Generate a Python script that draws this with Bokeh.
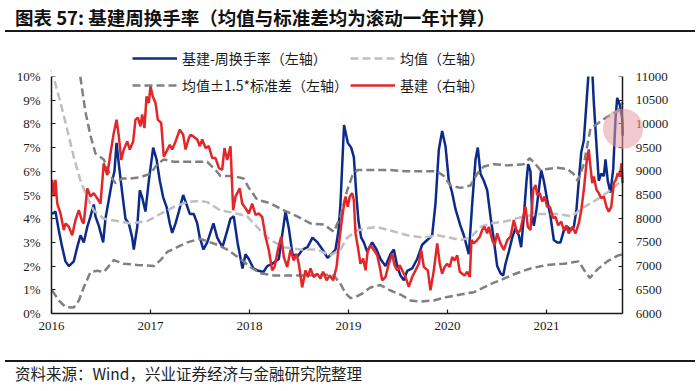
import numpy as np
from bokeh.plotting import figure
from bokeh.models import (Range1d, LinearAxis, FixedTicker, Legend, LegendItem,
                          Div, PolyAnnotation, BoxAnnotation)
from bokeh.layouts import column
from bokeh.embed import file_html
from bokeh.resources import INLINE

# ---------------- data ----------------
year_ticks = [2016, 2017, 2018, 2019, 2020, 2021]
left_ticks = [0, 1, 2, 3, 4, 5, 6, 7, 8, 9, 10]
right_ticks = [6000, 6500, 7000, 7500, 8000, 8500, 9000, 9500, 10000, 10500, 11000]

turnover_yr = [2016.007, 2016.040, 2016.074, 2016.108, 2016.141, 2016.175, 2016.225, 2016.260, 2016.293, 2016.326,
               2016.361, 2016.394, 2016.427, 2016.444, 2016.478, 2016.522, 2016.545, 2016.579, 2016.613, 2016.636,
               2016.657, 2016.680, 2016.714, 2016.747, 2016.781, 2016.815, 2016.831, 2016.866, 2016.892, 2016.916,
               2016.949, 2016.983, 2017.027, 2017.061, 2017.094, 2017.128, 2017.162, 2017.195, 2017.219, 2017.253,
               2017.286, 2017.330, 2017.364, 2017.397, 2017.437, 2017.472, 2017.498, 2017.535, 2017.573, 2017.636,
               2017.674, 2017.727, 2017.775, 2017.808, 2017.841, 2017.879, 2017.929, 2017.960, 2017.993, 2018.040,
               2018.091, 2018.141, 2018.179, 2018.232, 2018.263, 2018.296, 2018.364, 2018.397, 2018.434, 2018.485,
               2018.535, 2018.586, 2018.636, 2018.687, 2018.737, 2018.788, 2018.828, 2018.869, 2018.899, 2018.919,
               2018.955, 2018.993, 2019.027, 2019.054, 2019.081, 2019.101, 2019.128, 2019.155, 2019.189, 2019.239,
               2019.283, 2019.323, 2019.374, 2019.424, 2019.458, 2019.492, 2019.525, 2019.559, 2019.593, 2019.643,
               2019.694, 2019.744, 2019.795, 2019.845, 2019.879, 2019.912, 2019.946, 2019.980, 2020.013, 2020.047,
               2020.081, 2020.131, 2020.165, 2020.215, 2020.249, 2020.283, 2020.306, 2020.333, 2020.367, 2020.401,
               2020.434, 2020.468, 2020.502, 2020.535, 2020.563, 2020.586, 2020.619, 2020.654, 2020.687, 2020.720,
               2020.744, 2020.771, 2020.798, 2020.815, 2020.838, 2020.856, 2020.872, 2020.899, 2020.922, 2020.946,
               2020.973, 2021.007, 2021.040, 2021.074, 2021.108, 2021.141, 2021.175, 2021.215, 2021.242, 2021.276,
               2021.303, 2021.326, 2021.351, 2021.377, 2021.404, 2021.427, 2021.462, 2021.478, 2021.505, 2021.528,
               2021.553, 2021.579, 2021.596, 2021.619, 2021.646, 2021.674, 2021.697, 2021.714, 2021.741, 2021.765,
               2021.770]
turnover_pct = [4.2, 4.3, 3.5, 2.8, 2.2, 2.0, 2.2, 2.8, 3.3, 3.0,
                3.65, 4.1, 4.6, 4.1, 3.7, 3.0, 4.0, 4.8, 5.6, 6.0,
                7.2, 6.3, 5.1, 4.0, 3.8, 3.2, 2.7, 3.65, 5.2, 4.9,
                4.3, 5.6, 7.0, 6.5, 5.6, 4.9, 4.5, 3.8, 3.4, 3.8,
                4.3, 5.0, 4.6, 4.2, 4.2, 3.8, 3.2, 2.7, 3.0, 3.8,
                3.2, 2.8, 3.5, 4.0, 4.1, 3.0, 1.9, 2.5, 2.3, 1.9,
                1.8, 1.75, 2.0, 2.1, 2.2, 2.3, 4.3, 3.6, 2.5, 2.4,
                2.7, 2.8, 3.2, 3.0, 2.7, 2.35, 2.5, 2.7, 3.5, 4.65,
                7.95, 7.2, 7.0, 6.6, 4.9, 3.9, 3.2, 3.0, 2.6, 3.0,
                2.7, 2.3, 2.0, 2.5, 2.7, 2.0, 1.6, 1.4, 1.8, 1.9,
                2.3, 2.9, 3.1, 3.3, 4.65, 6.9, 7.7, 7.05, 5.6, 5.1,
                4.4, 3.7, 3.3, 2.5, 4.6, 6.5, 7.0, 5.9, 5.6, 5.2,
                4.1, 3.1, 2.0, 1.7, 1.6, 2.1, 2.6, 3.2, 3.6, 3.3,
                2.8, 4.1, 5.6, 6.3, 6.0, 4.1, 3.7, 4.4, 5.2, 6.05,
                5.6, 4.8, 4.1, 3.1, 3.0, 3.0, 3.5, 3.65, 3.5, 3.65,
                4.4, 5.6, 6.8, 7.3, 8.9, 10.3, 10.3, 8.9, 7.1, 5.6,
                5.9, 5.8, 6.5, 5.6, 5.1, 6.1, 8.2, 9.1, 8.8, 8.2,
                7.5]

infra_yr = [2016.007, 2016.023, 2016.040, 2016.058, 2016.091, 2016.124, 2016.141, 2016.175, 2016.209, 2016.242,
            2016.276, 2016.310, 2016.326, 2016.361, 2016.394, 2016.427, 2016.462, 2016.495, 2016.528, 2016.563,
            2016.596, 2016.629, 2016.657, 2016.680, 2016.704, 2016.730, 2016.765, 2016.791, 2016.825, 2016.848,
            2016.872, 2016.899, 2016.916, 2016.939, 2016.960, 2016.983, 2017.000, 2017.023, 2017.051, 2017.074,
            2017.108, 2017.134, 2017.162, 2017.195, 2017.219, 2017.253, 2017.296, 2017.330, 2017.354, 2017.387,
            2017.404, 2017.431, 2017.472, 2017.498, 2017.522, 2017.556, 2017.589, 2017.623, 2017.657, 2017.690,
            2017.724, 2017.747, 2017.775, 2017.808, 2017.835, 2017.859, 2017.902, 2017.926, 2017.960, 2017.993,
            2018.027, 2018.061, 2018.094, 2018.128, 2018.162, 2018.195, 2018.229, 2018.253, 2018.286, 2018.320,
            2018.347, 2018.381, 2018.414, 2018.447, 2018.475, 2018.498, 2018.532, 2018.566, 2018.589, 2018.616,
            2018.649, 2018.684, 2018.717, 2018.744, 2018.778, 2018.811, 2018.845, 2018.879, 2018.912, 2018.946,
            2018.970, 2018.993, 2019.013, 2019.037, 2019.054, 2019.071, 2019.094, 2019.121, 2019.148, 2019.172,
            2019.195, 2019.222, 2019.256, 2019.290, 2019.316, 2019.340, 2019.374, 2019.407, 2019.441, 2019.465,
            2019.492, 2019.518, 2019.542, 2019.576, 2019.609, 2019.643, 2019.677, 2019.710, 2019.734, 2019.761,
            2019.801, 2019.828, 2019.862, 2019.896, 2019.922, 2019.946, 2019.970, 2019.997, 2020.023, 2020.047,
            2020.071, 2020.098, 2020.124, 2020.148, 2020.172, 2020.199, 2020.225, 2020.242, 2020.266, 2020.300,
            2020.326, 2020.350, 2020.374, 2020.401, 2020.417, 2020.452, 2020.475, 2020.502, 2020.535, 2020.569,
            2020.603, 2020.636, 2020.670, 2020.704, 2020.737, 2020.765, 2020.788, 2020.811, 2020.838, 2020.866,
            2020.889, 2020.906, 2020.932, 2020.957, 2020.980, 2021.007, 2021.034, 2021.068, 2021.091, 2021.118,
            2021.149, 2021.175, 2021.202, 2021.225, 2021.260, 2021.293, 2021.326, 2021.351, 2021.377, 2021.404,
            2021.427, 2021.444, 2021.462, 2021.478, 2021.505, 2021.528, 2021.553, 2021.579, 2021.606, 2021.629,
            2021.654, 2021.680, 2021.700, 2021.720, 2021.741, 2021.758, 2021.768]
infra_idx = [8820, 8470, 8820, 8320, 8110, 7760, 7900, 7830, 7650, 7970,
             8180, 7940, 7900, 8640, 8470, 8540, 8430, 8320, 9170, 8920,
             9380, 9810, 10090, 9740, 9240, 9460, 9630, 9460, 9630, 10090,
             10130, 9950, 10200, 9910, 10580, 10440, 10800, 10580, 10440, 10090,
             10020, 9310, 9420, 9560, 9460, 9630, 9880, 9770, 9460, 9700,
             9770, 9740, 9670, 9530, 9670, 9490, 9530, 9280, 9280, 9070,
             9030, 9490, 9240, 9530, 8180, 8470, 8640, 8320, 8220, 8110,
             8320, 8080, 8110, 8040, 7620, 7340, 6910, 6980, 7340, 7620,
             7190, 6980, 7340, 7120, 7260, 7050, 6550, 6910, 6770, 6950,
             6770, 6840, 6740, 6880, 6700, 6800, 6700, 6980, 7620, 8180,
             8470, 8250, 8470, 8540, 8390, 7690, 7410, 7050, 7160, 6910,
             7340, 7440, 7340, 7230, 6980, 6700, 6770, 7050, 7260, 7020,
             6910, 7020, 6910, 6770, 6560, 6770, 6910, 7050, 7340, 6980,
             6910, 6490, 6910, 7480, 7050, 6840, 6980, 7050, 6980, 7190,
             7120, 7230, 6880, 6840, 6800, 6880, 6770, 7550, 7480, 7550,
             7620, 7760, 7830, 7690, 7830, 7550, 7440, 7690, 7480, 7340,
             7550, 7620, 7970, 7690, 7760, 8040, 8250, 7830, 7760, 8610,
             8710, 8500, 8540, 8360, 8470, 8250, 8250, 8010, 8040, 7860,
             7940, 7760, 7860, 7690, 7830, 7690, 7900, 8180, 8610, 9170,
             9460, 9100, 8750, 8890, 8610, 8540, 8430, 8470, 8250, 8150,
             8250, 8750, 8820, 8960, 8890, 9170, 8750]

mean_yr = [2016.000, 2016.091, 2016.159, 2016.225, 2016.293, 2016.361, 2016.427, 2016.528, 2016.664, 2016.798,
           2016.967, 2017.101, 2017.235, 2017.371, 2017.498, 2017.573, 2017.707, 2017.841, 2017.977, 2018.111,
           2018.212, 2018.347, 2018.515, 2018.684, 2018.818, 2018.919, 2018.987, 2019.088, 2019.189, 2019.290,
           2019.424, 2019.593, 2019.761, 2019.896, 2020.030, 2020.131, 2020.232, 2020.333, 2020.434, 2020.603,
           2020.771, 2020.939, 2021.108, 2021.260, 2021.343, 2021.444, 2021.545, 2021.646, 2021.730, 2021.770]
mean_pct = [10.3, 8.9, 7.75, 6.6, 5.6, 4.9, 4.35, 4.0, 3.9, 3.8,
            3.9, 4.2, 4.5, 4.7, 4.75, 4.7, 4.35, 4.25, 4.1, 3.5,
            3.1, 2.8, 2.7, 2.7, 2.45, 2.7, 3.2, 3.5, 3.6, 3.65,
            3.5, 3.3, 3.2, 3.3, 3.2, 3.1, 3.2, 3.65, 3.8, 3.9,
            4.1, 4.2, 4.2, 4.1, 4.4, 4.65, 4.9, 5.2, 5.5, 5.6]

upper_yr = [2016.273, 2016.343, 2016.394, 2016.444, 2016.528, 2016.596, 2016.646, 2016.714, 2016.798, 2016.899,
            2017.000, 2017.068, 2017.134, 2017.235, 2017.371, 2017.573, 2017.657, 2017.707, 2017.838, 2017.939,
            2017.993, 2018.078, 2018.212, 2018.347, 2018.482, 2018.616, 2018.751, 2018.852, 2018.919, 2018.987,
            2019.037, 2019.088, 2019.256, 2019.424, 2019.593, 2019.761, 2019.896, 2019.963, 2020.030, 2020.131,
            2020.232, 2020.300, 2020.367, 2020.468, 2020.603, 2020.771, 2020.832, 2020.889, 2020.939, 2021.007,
            2021.108, 2021.209, 2021.270, 2021.316, 2021.377, 2021.444, 2021.512, 2021.613, 2021.724, 2021.770]
upper_pct = [10.5, 8.5, 7.5, 6.75, 6.5, 5.8, 5.5, 5.7, 5.7, 5.75,
             5.9, 6.3, 6.5, 6.4, 6.4, 6.4, 6.05, 5.8, 5.8, 5.7,
             5.3, 4.8, 4.65, 4.35, 4.1, 3.8, 3.75, 3.45, 4.1, 5.2,
             5.8, 6.05, 6.05, 6.05, 6.0, 6.0, 6.0, 5.8, 5.4, 5.3,
             5.4, 5.9, 6.2, 6.3, 6.25, 6.3, 6.55, 6.3, 6.05, 6.1,
             6.15, 6.1, 5.9, 5.6, 6.3, 7.8, 8.0, 8.3, 8.55, 8.9]

lower_yr = [2016.007, 2016.074, 2016.141, 2016.225, 2016.276, 2016.326, 2016.394, 2016.462, 2016.528, 2016.579,
            2016.629, 2016.730, 2016.866, 2017.033, 2017.101, 2017.169, 2017.270, 2017.371, 2017.498, 2017.538,
            2017.674, 2017.775, 2017.909, 2018.010, 2018.111, 2018.245, 2018.414, 2018.583, 2018.751, 2018.852,
            2018.919, 2018.970, 2019.020, 2019.071, 2019.141, 2019.222, 2019.323, 2019.424, 2019.525, 2019.626,
            2019.727, 2019.859, 2019.997, 2020.131, 2020.266, 2020.367, 2020.468, 2020.535, 2020.636, 2020.768,
            2020.838, 2021.007, 2021.175, 2021.326, 2021.377, 2021.438, 2021.512, 2021.613, 2021.724, 2021.770]
lower_pct = [0.97, 0.55, 0.27, 0.25, 0.55, 1.1, 1.75, 1.8, 1.75, 2.0,
             2.25, 2.1, 2.05, 2.0, 2.25, 2.6, 2.8, 3.0, 3.15, 3.1,
             2.9, 2.7, 2.3, 1.95, 1.7, 1.6, 1.6, 1.6, 1.65, 1.6,
             1.25, 0.85, 0.65, 0.7, 0.85, 1.1, 1.2, 0.97, 0.8, 0.55,
             0.5, 0.55, 0.7, 0.8, 0.9, 1.1, 1.3, 1.4, 1.6, 1.8,
             1.9, 2.05, 2.1, 2.2, 1.85, 1.5, 1.85, 2.2, 2.45, 2.5]

title_text = "图表 57: 基建周换手率（均值与标准差均为滚动一年计算）"
source_text = "资料来源：Wind，兴业证券经济与金融研究院整理"
labels = ["基建-周换手率（左轴）", "均值（左轴）", "均值±1.5*标准差（左轴）", "基建（右轴）"]

# ---------------- styles / layout ----------------
BLUE = "#0B2A8A"
RED = "#E3262A"
LIGHT = "#BFBFBF"
DARK = "#808080"
INK = "#1a1a1a"
TICK_FONT = "Liberation Serif"
CJK = "Noto Sans CJK SC"

W = 700
FIG_TOP = 33                     # page y where the figure starts (below title)
FRAME_L, FRAME_R = 6, 694        # frame spans past the axes so tick labels are not cut
FRAME_T, FRAME_B = 44, 345       # frame spans above/below the axes (legend & labels room)
AXIS_L = 51                      # page x of 2016 / left axis
AXIS_T, AXIS_B = 76, 313         # where 10% / 0% sit on the page
PX_PER_YEAR = 99.0
X0, X1 = 2016, 2021.77           # plotted span (axis ends)
PCT_MAX, IDX_MIN, IDX_MAX = 10, 6000, 11000

px_pct = (AXIS_B - AXIS_T) / PCT_MAX
px_idx = (AXIS_B - AXIS_T) / (IDX_MAX - IDX_MIN)
y_rng = Range1d(-(FRAME_B - AXIS_B) / px_pct, PCT_MAX + (AXIS_T - FRAME_T) / px_pct)
idx_rng = Range1d(IDX_MIN - (FRAME_B - AXIS_B) / px_idx, IDX_MAX + (AXIS_T - FRAME_T) / px_idx)
x_rng = Range1d(X0 - (AXIS_L - FRAME_L) / PX_PER_YEAR, X0 + (FRAME_R - AXIS_L) / PX_PER_YEAR)
FIG_H = 315

p = figure(width=W, height=FIG_H, output_backend="svg", toolbar_location=None,
           x_range=x_rng, y_range=y_rng,
           min_border_left=FRAME_L, min_border_right=W - FRAME_R,
           min_border_top=FRAME_T - FIG_TOP, min_border_bottom=FIG_TOP + FIG_H - FRAME_B,
           outline_line_color=None, background_fill_color="white", border_fill_color="white",
           margin=0)
p.xgrid.visible = False
p.ygrid.visible = False
p.extra_y_ranges = {"idx": idx_rng}

r_blue = p.line(turnover_yr, turnover_pct, line_color=BLUE, line_width=2.5)
r_mean = p.line(mean_yr, mean_pct, line_color=LIGHT, line_width=2.5, line_dash="8 4")
r_up = p.line(upper_yr, upper_pct, line_color=DARK, line_width=2.5, line_dash="8 4")
p.line(lower_yr, lower_pct, line_color=DARK, line_width=2.5, line_dash="8 4")
r_red = p.line(infra_yr, infra_idx, y_range_name="idx", line_color=RED, line_width=2.5)

# mask the lines above the 10% line (they are cut at the top of the axes)
p.add_layout(BoxAnnotation(bottom=PCT_MAX, left=X0, right=X1, fill_color="white", fill_alpha=1.0,
                           line_color=None))

# highlight circle
cx, cy = 2021.773, 7.8
th = np.linspace(0, 2 * np.pi, 72)
p.add_layout(PolyAnnotation(xs=list(cx + 0.202 * np.cos(th)), ys=list(cy + 0.844 * np.sin(th)),
                            fill_color="#E69AA2", fill_alpha=0.55, line_color=None))

right_axis = LinearAxis(y_range_name="idx", fixed_location=X1)
p.add_layout(right_axis, "right")

def style_axis(ax):
    ax.axis_line_color = INK
    ax.axis_line_width = 1.5
    ax.major_tick_line_color = INK
    ax.major_tick_line_width = 1.2
    ax.major_tick_in = 4
    ax.major_tick_out = 0
    ax.minor_tick_in = 0
    ax.minor_tick_out = 0
    ax.major_label_text_font = TICK_FONT
    ax.major_label_text_font_size = "13px"
    ax.major_label_text_color = INK

xa = p.xaxis[0]
style_axis(xa)
xa.ticker = FixedTicker(ticks=year_ticks)
xa.major_label_overrides = {t: str(t) for t in year_ticks}
xa.major_label_standoff = 8
xa.bounds = (X0, X1)
xa.fixed_location = 0

ya = p.yaxis[0]
style_axis(ya)
ya.ticker = FixedTicker(ticks=left_ticks)
ya.major_label_overrides = {t: f"{t}%" for t in left_ticks}
ya.major_label_standoff = 11
ya.bounds = (0, PCT_MAX)
ya.fixed_location = X0

style_axis(right_axis)
right_axis.ticker = FixedTicker(ticks=right_ticks)
right_axis.major_label_overrides = {t: str(t) for t in right_ticks}
right_axis.major_label_standoff = 13
right_axis.bounds = (IDX_MIN, IDX_MAX)

def make_legend(items, loc):
    return Legend(items=items, location=loc, orientation="vertical",
                  border_line_color=None, background_fill_alpha=0, padding=0, margin=0,
                  spacing=7, glyph_width=45, glyph_height=20, label_height=20,
                  label_standoff=5, label_text_font=CJK, label_text_font_size="14px",
                  label_text_color=INK)

leg_bottom = (FRAME_B - 95)      # legend bottom edge (page y 95) measured from frame bottom
leg1 = make_legend([LegendItem(label=labels[0], renderers=[r_blue]),
                    LegendItem(label=labels[2], renderers=[r_up])], (132 - FRAME_L, leg_bottom))
leg2 = make_legend([LegendItem(label=labels[1], renderers=[r_mean]),
                    LegendItem(label=labels[3], renderers=[r_red])], (350 - FRAME_L, leg_bottom))
p.add_layout(leg1)
p.add_layout(leg2)

title_div = Div(text=(f'<div style="width:690px;margin-left:5px;box-sizing:border-box;padding:7px 0 2px 10px;'
                      f'border-bottom:2px solid #1a1a1a;font-family:\'{CJK}\';font-weight:bold;'
                      f'font-size:18.5px;line-height:21px;color:#111;white-space:nowrap">{title_text}</div>'),
                width=W, height=FIG_TOP, margin=0)
src_div = Div(text=(f'<div style="width:690px;margin-left:5px;box-sizing:border-box;margin-top:12px;'
                    f'padding:2px 0 0 10px;border-top:2px solid #1a1a1a;font-family:\'{CJK}\';'
                    f'font-size:15.5px;line-height:18px;color:#222;white-space:nowrap">{source_text}</div>'),
              width=W, height=40, margin=0)

layout = column(title_div, p, src_div, spacing=0)

with open("out.html", "w", encoding="utf-8") as f:
    f.write(file_html(layout, INLINE, title="chart"))
